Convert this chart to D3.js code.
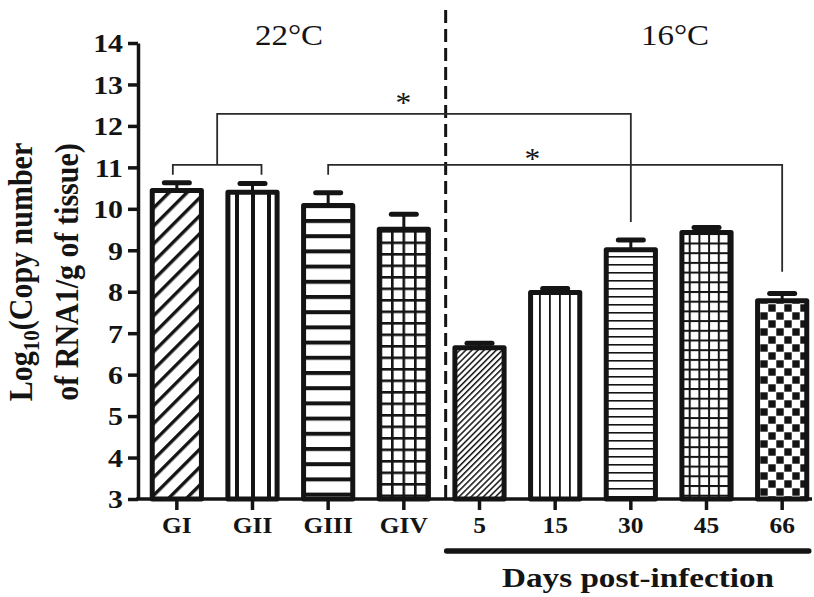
<!DOCTYPE html>
<html><head><meta charset="utf-8">
<script src="https://cdn.jsdelivr.net/npm/d3@7"></script>
<style>body{margin:0;background:#fff} svg{display:block}</style>
</head><body>
<svg id="c" width="814" height="597"></svg>
<script>
// ---- data ----
const categories = ["GI","GII","GIII","GIV","5","15","30","45","66"];
const means = [10.44,10.40,10.08,9.51,6.65,7.98,9.01,9.43,7.78];
const sems  = [0.19,0.21,0.31,0.36,0.11,0.10,0.24,0.12,0.18];
const yTicks = [3,4,5,6,7,8,9,10,11,12,13,14];
const groupLabels = ["22°C","16°C"];
const xTitle = "Days post-infection";
const sigMarks = ["*","*"];
// bracket levels (data units)
const pairBracket = {from:"GI", to:"GII", level:11.06, legEnd:10.82};
const sigBracket1 = {to:"30", level:12.29, legEnd:9.68};
const sigBracket2 = {from:"GIII", to:"66", level:11.06, legFrom:10.82, legEnd:8.48};

// ---- setup ----
const svg = d3.select("#c");
const FONT = "'Liberation Serif','Times New Roman',Times,serif";
const INK = "#141414";
const x = d3.scaleBand().domain(categories).range([139,820]).paddingInner(0.35).paddingOuter(0.175);
const y = d3.scaleLinear().domain([3,14]).range([499,43]);
const cx = c => x(c) + x.bandwidth()/2;

// ---- patterns ----
const defs = svg.append("defs");
function pat(id, w, h, tr) {
  const p = defs.append("pattern").attr("id", id).attr("patternUnits","userSpaceOnUse")
    .attr("width", w).attr("height", h);
  if (tr) p.attr("patternTransform", tr);
  p.append("rect").attr("width", w).attr("height", h).attr("fill","#fff");
  return p;
}
function hlines(id, s, t, off) { const p = pat(id, s, s, `translate(0,${off||0})`); p.append("rect").attr("width", s).attr("height", t).attr("fill", INK); }
function vlines(id, s, t, off) { const p = pat(id, s, s, `translate(${off||0},0)`); p.append("rect").attr("width", t).attr("height", s).attr("fill", INK); }
function diag(id, s, t) { const p = pat(id, s, s, "rotate(-45)"); p.append("rect").attr("width", s).attr("height", t).attr("fill", INK); }
function grid(id, s, t) { const p = pat(id, s, s); p.append("rect").attr("width", s).attr("height", t).attr("fill", INK); p.append("rect").attr("width", t).attr("height", s).attr("fill", INK); }
function checker(id, s, q) { const p = pat(id, 2*s, 2*s); p.append("rect").attr("x",0.3).attr("y",0.3).attr("width", q).attr("height", q).attr("fill", INK); p.append("rect").attr("x",s+0.3).attr("y",s+0.3).attr("width", q).attr("height", q).attr("fill", INK); }

diag("p0", 12.7, 3.4);
vlines("p1", 16, 4, 235);
hlines("p2", 15.2, 4, 295);
grid("p3", 11.5, 2.6);
diag("p4", 4.3, 1.5);
vlines("p5", 10, 1.8, 539);
hlines("p6", 8, 1.6, 0);
grid("p7", 9.7, 2);
checker("p8", 8, 7.4);
const patternIds = ["p0","p1","p2","p3","p4","p5","p6","p7","p8"];

// ---- bars ----
svg.append("g").selectAll("rect").data(categories).join("rect")
  .attr("x", c => x(c)).attr("width", x.bandwidth())
  .attr("y", (c,i) => y(means[i])).attr("height", (c,i) => y(3) - y(means[i]))
  .attr("fill", (c,i) => `url(#${patternIds[i]})`)
  .attr("stroke", INK).attr("stroke-width", 5).attr("stroke-linejoin","round");

// ---- error bars ----
const eb = svg.append("g").attr("stroke", INK);
categories.forEach((c,i) => {
  eb.append("line").attr("x1", cx(c)).attr("x2", cx(c)).attr("y1", y(means[i])).attr("y2", y(means[i]+sems[i])).attr("stroke-width", 3);
  eb.append("line").attr("x1", cx(c)-12.5).attr("x2", cx(c)+12.5).attr("y1", y(means[i]+sems[i])).attr("y2", y(means[i]+sems[i]))
    .attr("stroke-width", 5).attr("stroke-linecap","round");
});

// ---- axes ----
const yAxis = svg.append("g").attr("transform","translate(138,0)")
  .call(d3.axisLeft(y).tickValues(yTicks).tickSize(10).tickSizeOuter(0).tickPadding(3));
yAxis.select(".domain").attr("stroke", INK).attr("stroke-width", 3.5);
yAxis.selectAll(".tick line").attr("stroke", INK).attr("stroke-width", 3.5);
yAxis.selectAll(".tick text").attr("font-family", FONT).attr("font-weight","bold").attr("font-size", 26)
  .attr("fill", INK).attr("transform","scale(1.15,1)").attr("dy","0.34em");

const xAxis = svg.append("g").attr("transform","translate(0,499)")
  .call(d3.axisBottom(x).tickSize(11).tickSizeOuter(0).tickPadding(6));
xAxis.select(".domain").attr("d","M136,0H812").attr("stroke", INK).attr("stroke-width", 3.5);
xAxis.selectAll(".tick line").attr("stroke", INK).attr("stroke-width", 3.5);
xAxis.selectAll(".tick text").attr("font-family", FONT).attr("font-weight","bold").attr("font-size", 24)
  .attr("fill", INK).attr("transform","scale(1.06,1)").attr("x", 0).attr("dy","0.71em");

// ---- dashed separator ----
const sepX = (cx("GIV") + cx("5"))/2 + 4;
svg.append("line").attr("x1", sepX).attr("x2", sepX).attr("y1", 10).attr("y2", 499)
  .attr("stroke", INK).attr("stroke-width", 3).attr("stroke-dasharray","13,6");

// ---- brackets ----
const br = svg.append("g").attr("fill","none").attr("stroke","#2a2a2a").attr("stroke-width", 1.8);
const bx1 = cx(pairBracket.from) - 4, bx2 = cx(pairBracket.to) + 9;
br.append("path").attr("d", `M${bx1},${y(pairBracket.legEnd)}V${y(pairBracket.level)}H${bx2}V${y(pairBracket.legEnd)}`);
const midX = (bx1 + bx2)/2;
const s1x = cx(sigBracket1.to);
br.append("path").attr("d", `M${midX},${y(pairBracket.level)}V${y(sigBracket1.level)}H${s1x}V${y(sigBracket1.legEnd)}`);
const s2a = cx(sigBracket2.from), s2b = cx(sigBracket2.to);
br.append("path").attr("d", `M${s2a},${y(sigBracket2.legFrom)}V${y(sigBracket2.level)}H${s2b}V${y(sigBracket2.legEnd)}`);

function stext(str, px, py, size, weight, sx) {
  return svg.append("text").attr("transform", `translate(${px},${py}) scale(${sx},1)`)
    .attr("text-anchor","middle").attr("font-family", FONT).attr("font-size", size)
    .attr("font-weight", weight).attr("fill", INK).text(str);
}
stext(sigMarks[0], midX + 0.45*(s1x - midX), y(sigBracket1.level) - 2, 30, "normal", 1.05);
stext(sigMarks[1], s2a + 0.45*(s2b - s2a), y(sigBracket2.level) + 3, 30, "normal", 1.05);

// ---- group labels ----
stext(groupLabels[0], 289, 45, 30, "normal", 1.1);
stext(groupLabels[1], 675, 45, 30, "normal", 1.1);

// ---- bottom bar and x title ----
svg.append("line").attr("x1", sepX + 1).attr("x2", x("66") + x.bandwidth() + 2).attr("y1", 551).attr("y2", 551)
  .attr("stroke", INK).attr("stroke-width", 5.5).attr("stroke-linecap","round");
stext(xTitle, 638, 587, 27, "bold", 1.23);

// ---- y title ----
const yt = svg.append("g").attr("font-family", FONT).attr("font-weight","bold").attr("fill", INK).attr("font-size", 30);
const t1 = yt.append("text").attr("transform","translate(32,272) rotate(-90) scale(1,1.12)").attr("text-anchor","middle");
t1.append("tspan").text("Log");
t1.append("tspan").attr("font-size", 21).attr("dy", 6).text("10");
t1.append("tspan").attr("dy", -6).text("(Copy number");
yt.append("text").attr("transform","translate(78,272) rotate(-90) scale(1,1.12)").attr("text-anchor","middle")
  .text("of RNA1/g of tissue)");
</script>
</body></html>
